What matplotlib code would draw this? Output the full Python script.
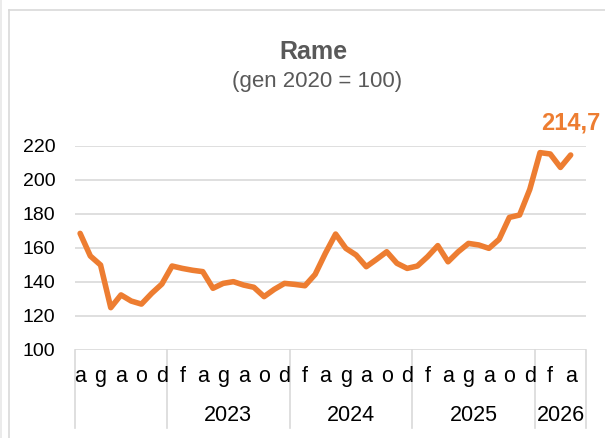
import matplotlib
matplotlib.use('Agg')
import matplotlib.pyplot as plt
from matplotlib import font_manager
from matplotlib.lines import Line2D

# Rame, indice gen 2020 = 100, da aprile 2022 ad aprile 2026
valori = [168.6, 155.3, 150.0, 124.9, 132.4, 128.8, 127.0, 133.3, 138.8,
          149.4, 148.0, 146.9, 146.1, 136.3, 139.2, 140.2, 138.2, 136.9, 131.4, 135.7, 139.2,
          138.6, 137.8, 144.5, 156.9, 168.2, 159.8, 155.9, 149.0, 153.3, 157.8, 151.0, 148.0,
          149.4, 154.9, 161.4, 151.9, 157.8, 162.7, 161.8, 159.8, 165.1, 178.0, 179.4, 194.5,
          216.1, 215.3, 207.4, 214.7]
iniziali = ['g', 'f', 'm', 'a', 'm', 'g', 'l', 'a', 's', 'o', 'n', 'd']
anni = ['', '2023', '2024', '2025', '2026']
mesi_per_anno = [9, 12, 12, 12, 5]   # apr-dic 2022 ... gen-mag 2026
primo_mese = 3                      # aprile
y_ticks = [100, 120, 140, 160, 180, 200, 220]

names = {f.name for f in font_manager.fontManager.ttflist}
narrow = 'Liberation Sans Narrow' if 'Liberation Sans Narrow' in names else 'Liberation Sans'
plt.rcParams['font.family'] = ['Liberation Sans', 'DejaVu Sans']

grigio = '#d9d9d9'
arancio = '#ed7d31'

fig = plt.figure(figsize=(6.05, 4.38), dpi=100)
ax = fig.add_axes([75 / 605, 88 / 438, 511 / 605, 204 / 438])

n_cat = sum(mesi_per_anno)
ax.plot(range(len(valori)), valori, color=arancio, lw=4, solid_joinstyle='round',
        solid_capstyle='round', clip_on=False, zorder=3)
ax.set_xlim(-0.5, n_cat - 0.5)
ax.set_ylim(100, 220)

for s in ax.spines.values():
    s.set_visible(False)
ax.set_yticks(y_ticks)
ax.set_yticklabels([str(v) for v in y_ticks], family=narrow, fontsize=14)
ax.tick_params(axis='y', length=0, pad=14)
ax.set_xticks([])
ax.grid(axis='y', color=grigio, lw=1.2)
ax.set_axisbelow(True)

# asse delle categorie a due livelli
tr = ax.get_xaxis_transform()
for i in range(0, n_cat, 2):
    m = (primo_mese + i) % 12
    ax.text(i, -0.131, iniziali[m], transform=tr, ha='center', va='center',
            family=narrow, fontsize=15.5)
start = -0.5
for anno, n in zip(anni, mesi_per_anno):
    ax.add_line(Line2D([start, start], [0, -0.382], transform=tr, color=grigio,
                       lw=1.2, clip_on=False))
    ax.text(start + n / 2, -0.3235, anno, transform=tr, ha='center', va='center',
            family=narrow, fontsize=15.5)
    start += n
ax.add_line(Line2D([start, start], [0, -0.382], transform=tr, color=grigio,
                   lw=1.2, clip_on=False))

ax.annotate(f'{valori[-1]:.1f}'.replace('.', ','), (len(valori) - 1, valori[-1]),
            xytext=(0, 23), textcoords='offset points', ha='center', va='center',
            family=narrow, fontsize=17, fontweight='bold', color=arancio)

fig.text(313 / 605, 1 - 52 / 438, 'Rame', ha='center', va='center',
         fontsize=18, fontweight='bold', color='#595959')
fig.text(317 / 605, 1 - 82 / 438, '(gen 2020 = 100)', ha='center', va='center',
         fontsize=16, color='#595959')

# bordo dell'area del grafico
fig.add_artist(Line2D([9 / 605, 9 / 605], [0, 1 - 9.5 / 438], transform=fig.transFigure,
                      color=grigio, lw=1.2))
fig.add_artist(Line2D([9 / 605, 1], [1 - 9.5 / 438, 1 - 9.5 / 438], transform=fig.transFigure,
                      color=grigio, lw=1.2))
fig.add_artist(Line2D([1 / 605, 1 / 605], [0, 1], transform=fig.transFigure,
                      color='#e8e8e8', lw=1.2))

fig.savefig('out.png', dpi=100)
